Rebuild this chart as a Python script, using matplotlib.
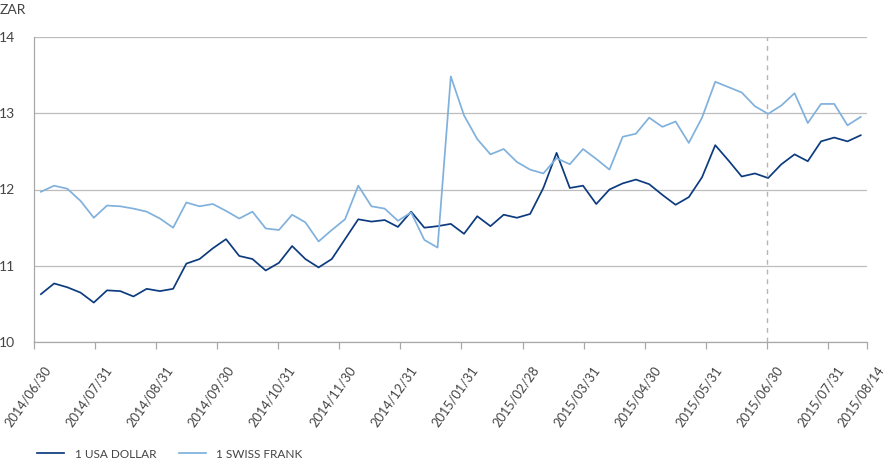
import numpy as np
import matplotlib
matplotlib.use("Agg")
import matplotlib.pyplot as plt
from matplotlib.transforms import ScaledTranslation

# weekly ZAR exchange rates, 2014/06/30 - 2015/08/14
usd = [10.63, 10.77, 10.72, 10.65, 10.52, 10.68, 10.67, 10.60, 10.70, 10.67,
       10.70, 11.03, 11.09, 11.23, 11.35, 11.13, 11.09, 10.94, 11.04, 11.26,
       11.09, 10.98, 11.09, 11.35, 11.61, 11.58, 11.60, 11.51, 11.71, 11.50,
       11.52, 11.55, 11.42, 11.65, 11.52, 11.67, 11.63, 11.68, 12.02, 12.48,
       12.02, 12.05, 11.81, 12.00, 12.08, 12.13, 12.07, 11.93, 11.80, 11.90,
       12.16, 12.58, 12.38, 12.17, 12.21, 12.15, 12.33, 12.46, 12.37, 12.63,
       12.68, 12.63, 12.71]
chf = [11.97, 12.05, 12.01, 11.85, 11.63, 11.79, 11.78, 11.75, 11.71, 11.62,
       11.50, 11.83, 11.78, 11.81, 11.72, 11.62, 11.71, 11.49, 11.47, 11.67,
       11.57, 11.32, 11.47, 11.61, 12.05, 11.78, 11.75, 11.59, 11.70, 11.34,
       11.24, 13.48, 12.97, 12.66, 12.46, 12.53, 12.36, 12.26, 12.21, 12.41,
       12.33, 12.53, 12.40, 12.26, 12.69, 12.73, 12.94, 12.82, 12.89, 12.61,
       12.94, 13.41, 13.34, 13.27, 13.09, 12.99, 13.10, 13.26, 12.87, 13.12,
       13.12, 12.84, 12.95]
tick_labels = ['2014/06/30', '2014/07/31', '2014/08/31', '2014/09/30',
               '2014/10/31', '2014/11/30', '2014/12/31', '2015/01/31',
               '2015/02/28', '2015/03/31', '2015/04/30', '2015/05/31',
               '2015/06/30', '2015/07/31', '2015/08/14']
series_names = ['1 USA DOLLAR', '1 SWISS FRANK']

plt.rcParams['font.family'] = ['Lato', 'DejaVu Sans']
txt = '#444444'
grid_c = '#bdbdbd'

W, H = 896, 463
fig = plt.figure(figsize=(W / 100, H / 100), dpi=100)
ax = fig.add_axes([34.3 / W, 1 - 342.3 / H, 833 / W, 305.6 / H])

n = len(usd)
x = np.arange(n) + 0.5  # category slots, points centred
ax.plot(x, usd, color='#0c3b7f', lw=1.25, label=series_names[0])
ax.plot(x, chf, color='#80b1dd', lw=1.25, label=series_names[1])

# month ticks are evenly spaced, last tick at the end of the axis
ticks = [k * 60 / 13 for k in range(14)] + [n]
ax.set_xlim(0, n)
ax.set_ylim(10, 14)
ax.set_xticks(ticks)
ax.set_xticklabels(tick_labels)
ax.set_yticks([10, 11, 12, 13, 14])

# dashed marker at 2015/06/30
ax.axvline(ticks[12], color='#b5b5b5', lw=1.0, ls=(0, (3.5, 3.5)))

ax.grid(axis='y', color=grid_c, lw=0.9)
ax.set_axisbelow(True)
for s in ['top', 'right']:
    ax.spines[s].set_visible(False)
for s in ['left', 'bottom']:
    ax.spines[s].set_color('#a8a8a8')
    ax.spines[s].set_linewidth(0.9)

# pads and lengths in points (100 dpi -> 1 px = 0.72 pt)
ax.tick_params(axis='x', direction='out', length=5, width=0.9, color='#a8a8a8',
               pad=10.8, labelsize=9.2, labelcolor=txt)
ax.tick_params(axis='y', length=0, pad=14, labelsize=10, labelcolor=txt)
off = ScaledTranslation(0.09, 0, fig.dpi_scale_trans)
for lab in ax.get_xticklabels():
    lab.set_rotation(55)
    lab.set_ha('right')
    lab.set_va('top')
    lab.set_rotation_mode('anchor')
    lab.set_transform(lab.get_transform() + off)

fig.text(0, 1 - 10 / H, 'ZAR', fontsize=10, color=txt, va='center', ha='left')

ax.legend(loc='center left', bbox_to_anchor=(37 / W, 1 - 454 / H),
          bbox_transform=fig.transFigure, ncol=2, frameon=False,
          fontsize=8.5, labelcolor=txt, handlelength=2.3, handletextpad=0.9,
          columnspacing=1.9, borderpad=0, borderaxespad=0)

fig.savefig('out.png', dpi=100)
